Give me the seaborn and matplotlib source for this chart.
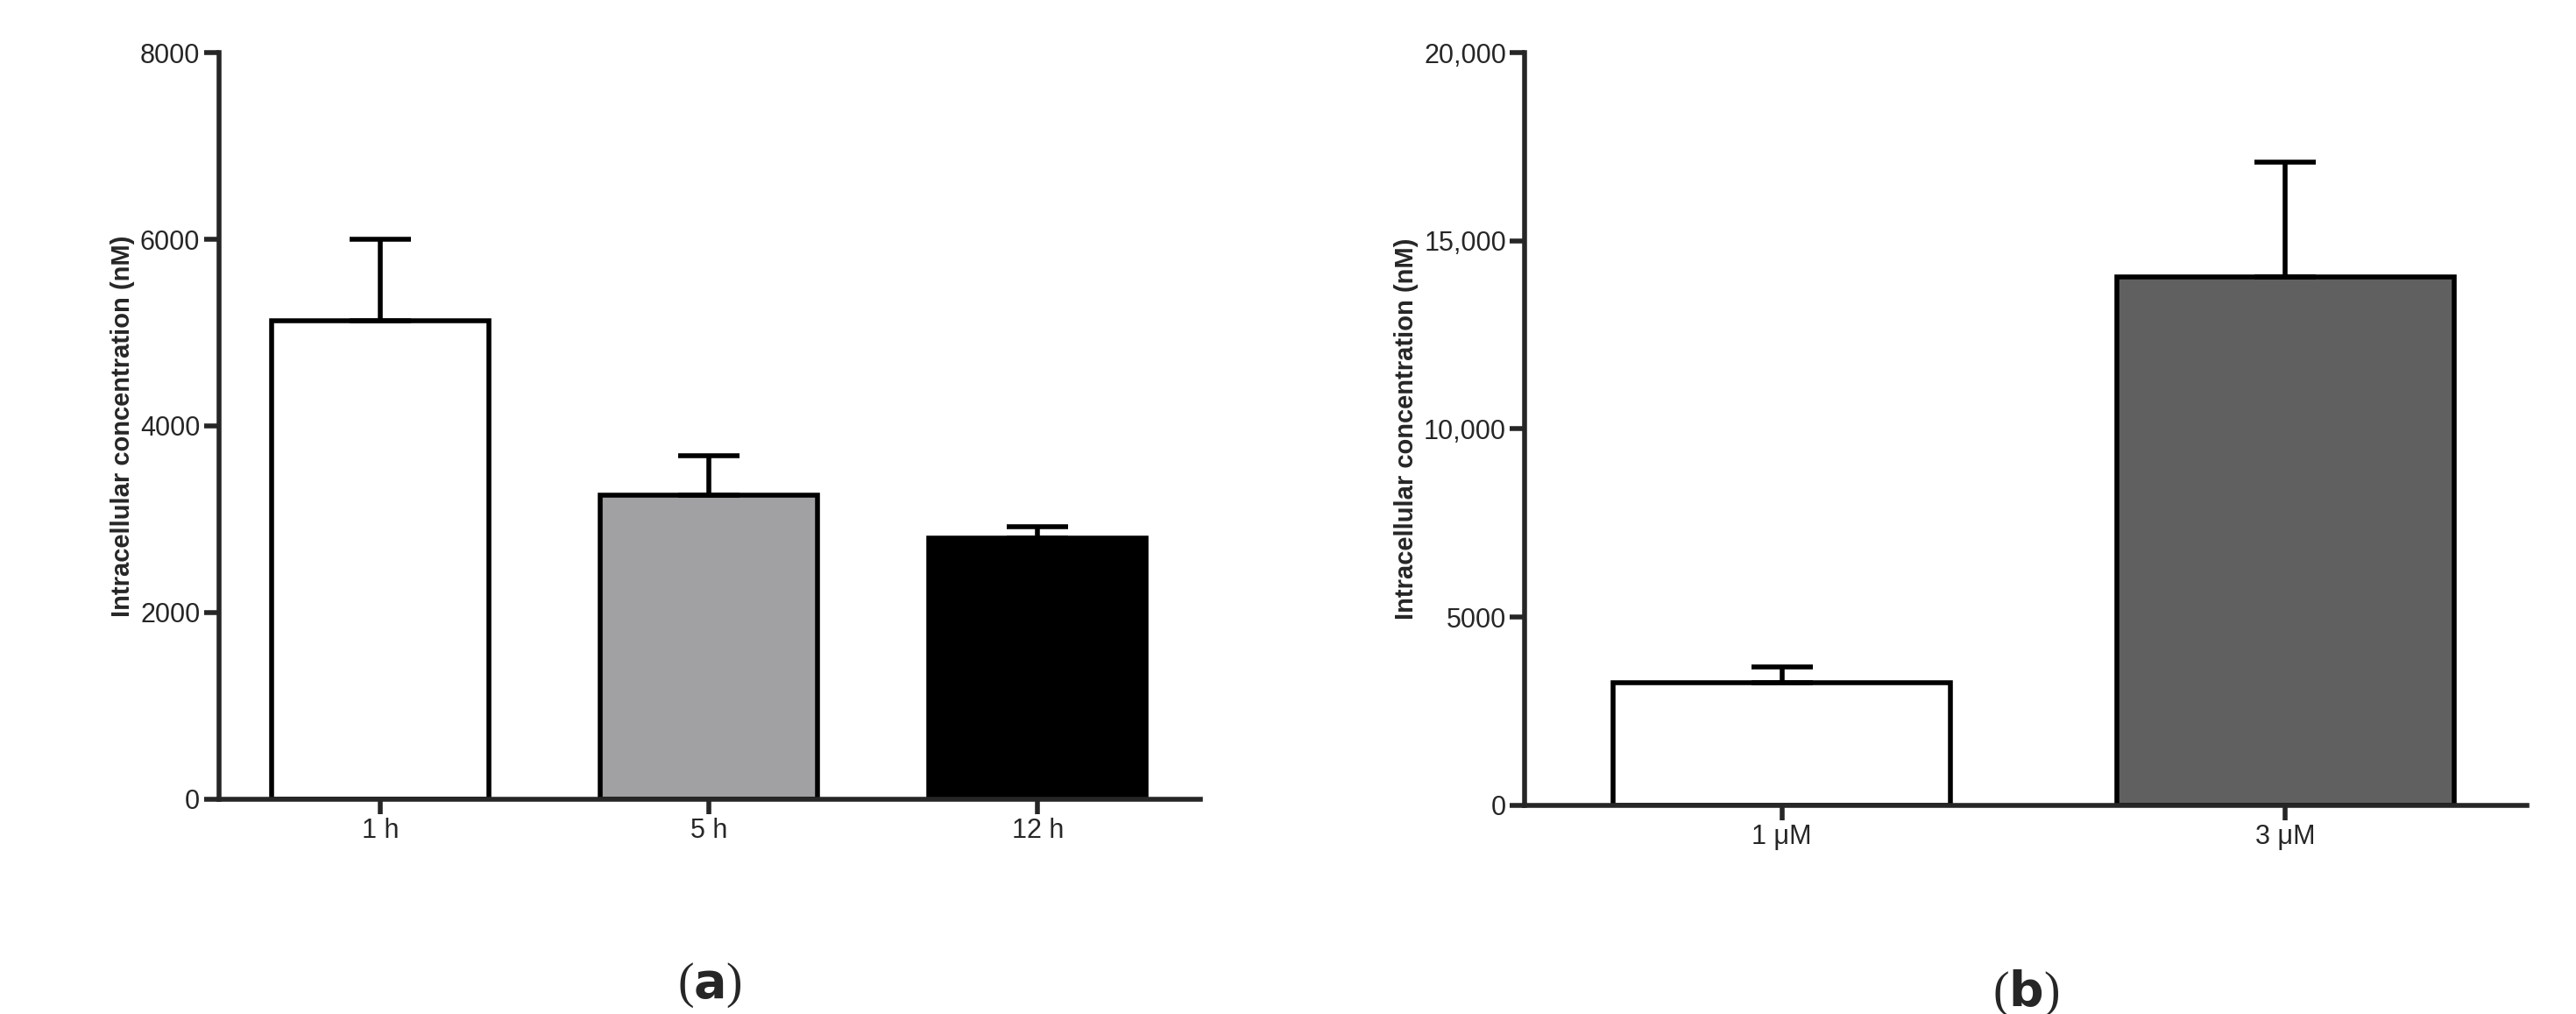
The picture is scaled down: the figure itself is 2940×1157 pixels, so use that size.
import matplotlib
matplotlib.use("Agg")
import matplotlib.pyplot as plt
import seaborn as sns
import pandas as pd
from matplotlib.ticker import FuncFormatter

sns.set_style("ticks")
plt.rcParams['font.family'] = ['Liberation Sans', 'DejaVu Sans']

cats_a = ["1 h", "5 h", "12 h"]
vals_a = [5130, 3260, 2800]
err_a = [870, 420, 120]
colors_a = ["#ffffff", "#a1a0a5", "#000000"]

cats_b = ["1 μM", "3 μM"]
vals_b = [3250, 14050]
err_b = [430, 3050]
colors_b = ["#ffffff", "#606060"]

fig = plt.figure(figsize=(29.4, 11.57), dpi=100)
axa = fig.add_axes([0.085, 0.212, 0.381, 0.736])
axb = fig.add_axes([0.592, 0.206, 0.389, 0.742])

LW = 4

def panel(ax, cats, vals, errs, colors, width, ylim, yticks, fmt, xlim, label):
    df = pd.DataFrame({"c": cats, "v": vals})
    sns.barplot(data=df, x="c", y="v", hue="c", palette=colors, width=width,
                edgecolor="black", linewidth=LW, ax=ax, legend=False, errorbar=None)
    ax.errorbar(range(len(cats)), vals, yerr=[[0]*len(errs), errs], fmt="none",
                ecolor="black", elinewidth=LW, capsize=25, capthick=LW, zorder=5)
    ax.set_ylim(*ylim)
    ax.set_xlim(*xlim)
    ax.set_yticks(yticks)
    ax.yaxis.set_major_formatter(FuncFormatter(fmt))
    ax.set_xlabel("")
    ax.set_ylabel("Intracellular concentration (nM)", fontsize=21, fontweight="bold")
    sns.despine(ax=ax)
    for s in ["left", "bottom"]:
        ax.spines[s].set_linewidth(LW)
    ax.tick_params(axis="both", width=LW, length=12, labelsize=22, direction="out")
    ax.text(0.5, -0.25, label, transform=ax.transAxes, ha="center", va="center",
            fontsize=40, family="Liberation Serif")

panel(axa, cats_a, vals_a, err_a, colors_a, 0.66, (0, 8000), [0, 2000, 4000, 6000, 8000],
      lambda v, p: f"{int(v)}", (-0.49, 2.495), "($\\bf{a}$)")
panel(axb, cats_b, vals_b, err_b, colors_b, 0.67, (0, 20000), [0, 5000, 10000, 15000, 20000],
      lambda v, p: f"{int(v):,}" if v >= 10000 else f"{int(v)}", (-0.51, 1.48), "($\\bf{b}$)")

fig.savefig("out.png", dpi=100)
